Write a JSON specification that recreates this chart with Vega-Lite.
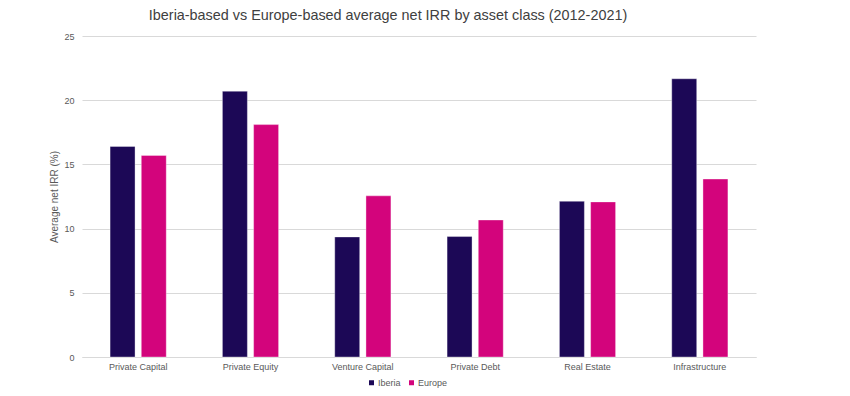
{
  "$schema": "https://vega.github.io/schema/vega-lite/v6.json",
  "autosize": "none",
  "width": 674,
  "height": 321,
  "padding": {"left": 82, "top": 36, "right": 94, "bottom": 39},
  "background": "white",
  "config": {
    "font": "Liberation Sans",
    "view": {"stroke": null}
  },
  "title": {
    "text": "Iberia-based vs Europe-based average net IRR by asset class (2012-2021)",
    "fontSize": 14.4,
    "fontWeight": "normal",
    "color": "#404040",
    "anchor": "middle",
    "dx": -31,
    "offset": 9
  },
  "data": {
    "values": [
      {"asset": "Private Capital", "region": "Iberia", "irr": 16.4},
      {"asset": "Private Capital", "region": "Europe", "irr": 15.7},
      {"asset": "Private Equity", "region": "Iberia", "irr": 20.7},
      {"asset": "Private Equity", "region": "Europe", "irr": 18.1},
      {"asset": "Venture Capital", "region": "Iberia", "irr": 9.35},
      {"asset": "Venture Capital", "region": "Europe", "irr": 12.55},
      {"asset": "Private Debt", "region": "Iberia", "irr": 9.38},
      {"asset": "Private Debt", "region": "Europe", "irr": 10.67},
      {"asset": "Real Estate", "region": "Iberia", "irr": 12.13},
      {"asset": "Real Estate", "region": "Europe", "irr": 12.08},
      {"asset": "Infrastructure", "region": "Iberia", "irr": 21.67},
      {"asset": "Infrastructure", "region": "Europe", "irr": 13.86}
    ]
  },
  "mark": {"type": "bar", "stroke": "#ffffff", "strokeWidth": 0.6, "strokeOpacity": 0.6},
  "encoding": {
    "x": {
      "field": "asset",
      "type": "nominal",
      "sort": ["Private Capital", "Private Equity", "Venture Capital", "Private Debt", "Real Estate", "Infrastructure"],
      "scale": {"paddingInner": 0.5, "paddingOuter": 0.25},
      "axis": {
        "title": null,
        "labelAngle": 0,
        "labelFontSize": 9,
        "labelColor": "#595959",
        "labelPadding": 5,
        "ticks": false,
        "domainColor": "#d9d9d9",
        "domainWidth": 1
      }
    },
    "xOffset": {
      "field": "region",
      "type": "nominal",
      "sort": ["Iberia", "Europe"],
      "scale": {"paddingInner": 0.2, "paddingOuter": 0}
    },
    "y": {
      "field": "irr",
      "type": "quantitative",
      "scale": {"domain": [0, 25]},
      "axis": {
        "title": "Average net IRR (%)",
        "titleFontSize": 10,
        "titleFontWeight": "normal",
        "titleColor": "#595959",
        "titlePadding": 4,
        "values": [0, 5, 10, 15, 20, 25],
        "labelFontSize": 9,
        "labelColor": "#595959",
        "labelPadding": 8,
        "ticks": false,
        "domain": false,
        "gridColor": "#d9d9d9",
        "gridWidth": 1
      }
    },
    "color": {
      "field": "region",
      "type": "nominal",
      "sort": ["Iberia", "Europe"],
      "scale": {"domain": ["Iberia", "Europe"], "range": ["#1c0856", "#d3047c"]},
      "legend": {
        "title": null,
        "orient": "none",
        "direction": "horizontal",
        "legendX": 285,
        "legendY": 342,
        "symbolType": "square",
        "symbolSize": 25,
        "symbolStrokeWidth": 0,
        "labelFontSize": 9,
        "labelColor": "#595959",
        "labelOffset": 2,
        "columnPadding": 6
      }
    }
  }
}
